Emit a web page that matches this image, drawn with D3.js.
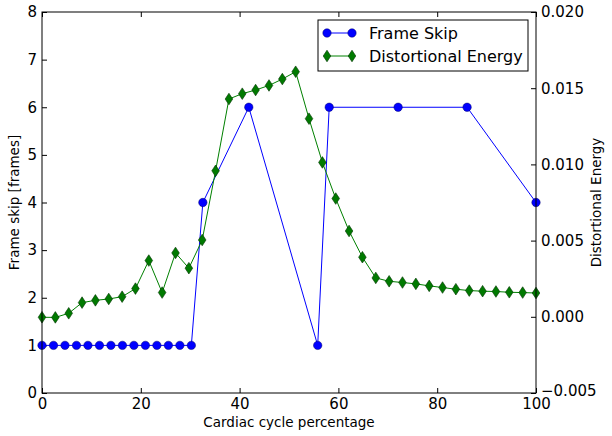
<!DOCTYPE html>
<html><head><meta charset="utf-8">
<script src="https://cdn.jsdelivr.net/npm/d3@7"></script>
<style>
html,body{margin:0;padding:0;background:#fff;}
svg{display:block;font-family:"DejaVu Sans",sans-serif;}
</style></head>
<body><svg id="chart" width="612" height="436"></svg>
<script>
const skipX = [0, 2.33, 4.65, 6.98, 9.30, 11.63, 13.95, 16.28, 18.60, 20.93, 23.26, 25.58, 27.91, 30.23, 32.56, 41.86, 55.81, 58.14, 72.09, 86.05, 100];
const skipY = [1,1,1,1,1,1,1,1,1,1,1,1,1,1,4,6,1,6,6,6,4];
const energyX = [0, 2.70, 5.41, 8.11, 10.81, 13.51, 16.22, 18.92, 21.62, 24.32, 27.03, 29.73, 32.43, 35.14, 37.84, 40.54, 43.24, 45.95, 48.65, 51.35, 54.05, 56.76, 59.46, 62.16, 64.86, 67.57, 70.27, 72.97, 75.68, 78.38, 81.08, 83.78, 86.49, 89.19, 91.89, 94.59, 97.30, 100];
const energyY = [-0.00003, -0.00004, 0.00023, 0.00093, 0.00108, 0.00117, 0.00132, 0.00185, 0.00369, 0.00159, 0.00419, 0.00319, 0.00504, 0.00958, 0.01429, 0.01464, 0.01488, 0.01518, 0.0156, 0.01608, 0.01300, 0.01013, 0.00776, 0.00563, 0.00391, 0.00255, 0.00233, 0.00225, 0.00216, 0.00203, 0.00192, 0.00181, 0.00172, 0.00168, 0.00166, 0.00161, 0.00159, 0.00156];
const xTicks = [0, 20, 40, 60, 80, 100];
const yLeftTicks = [0,1,2,3,4,5,6,7,8];
const yRightTicks = [-0.005, 0.000, 0.005, 0.010, 0.015, 0.020];
const seriesNames = ["Frame Skip", "Distortional Energy"];

const svg = d3.select("#chart");
const L = 42, R = 536, T = 12, B = 393;
const x = d3.scaleLinear().domain([0,100]).range([L,R]);
const yL = d3.scaleLinear().domain([0,8]).range([B,T]);
const yR = d3.scaleLinear().domain([-0.005,0.020]).range([B,T]);
const fs = 15;

const axB = d3.axisBottom(x).tickValues(xTicks).tickSizeInner(-5).tickSizeOuter(0).tickPadding(5.5).tickFormat(d3.format("d"));
const axT = d3.axisTop(x).tickValues(xTicks).tickSizeInner(-5).tickSizeOuter(0).tickFormat("");
const axL = d3.axisLeft(yL).tickValues(yLeftTicks).tickSizeInner(-5).tickSizeOuter(0).tickPadding(5).tickFormat(d3.format("d"));
const axRt = d3.axisRight(yR).tickValues(yRightTicks).tickSizeInner(-5).tickSizeOuter(0).tickPadding(5).tickFormat(d3.format(".3f"));

function style(g){
  g.select(".domain").remove();
  g.selectAll("line").attr("stroke","#000").attr("stroke-width",1);
  g.selectAll("text").attr("font-size",fs).attr("fill","#000").attr("font-family","DejaVu Sans, sans-serif");
}
svg.append("g").attr("transform",`translate(0,${B})`).call(axB).call(style);
svg.append("g").attr("transform",`translate(0,${T})`).call(axT).call(style);
svg.append("g").attr("transform",`translate(${L},0)`).call(axL).call(style);
const rg = svg.append("g").attr("transform",`translate(${R},0)`).call(axRt).call(style);
rg.selectAll("text").text(d => d3.format(".3f")(d).replace("-","\u2212"));
rg.selectAll(".tick").filter(d => d === -0.005).select("text").attr("dy","0.15em");

const lineS = d3.line().x(d=>x(d[0])).y(d=>yL(d[1]));
const lineE = d3.line().x(d=>x(d[0])).y(d=>yR(d[1]));
const sData = skipX.map((v,i)=>[v,skipY[i]]);
const eData = energyX.map((v,i)=>[v,energyY[i]]);

const plot = svg.append("g");
plot.append("path").datum(sData).attr("d",lineS).attr("fill","none").attr("stroke","#0000ff").attr("stroke-width",1);
plot.selectAll(".sdot").data(sData).enter().append("circle")
  .attr("cx",d=>x(d[0])).attr("cy",d=>yL(d[1])).attr("r",4.2)
  .attr("fill","#0000ff").attr("stroke","#00006a").attr("stroke-width",0.5);

const diamond = (cx,cy) => `M${cx},${cy-5.8}L${cx+3.8},${cy}L${cx},${cy+5.8}L${cx-3.8},${cy}Z`;
plot.append("path").datum(eData).attr("d",lineE).attr("fill","none").attr("stroke","#008000").attr("stroke-width",1);
plot.selectAll(".edot").data(eData).enter().append("path")
  .attr("d",d=>diamond(x(d[0]),yR(d[1])))
  .attr("fill","#007a00").attr("stroke","#003300").attr("stroke-width",0.6);

svg.append("rect").attr("x",L).attr("y",T).attr("width",R-L).attr("height",B-T)
  .attr("fill","none").attr("stroke","#000").attr("stroke-width",1);

svg.append("text").attr("x",(L+R)/2).attr("y",427).attr("text-anchor","middle")
  .attr("font-size",13.5).text("Cardiac cycle percentage");
svg.append("text").attr("transform",`translate(19,${(T+B)/2}) rotate(-90)`).attr("text-anchor","middle")
  .attr("font-size",13.5).text("Frame skip [frames]");
svg.append("text").attr("transform",`translate(601,${(T+B)/2}) rotate(-90)`).attr("text-anchor","middle")
  .attr("font-size",13.5).text("Distortional Energy");

const lg = svg.append("g");
lg.append("rect").attr("x",318).attr("y",20).attr("width",210).attr("height",51)
  .attr("fill","#fff").attr("stroke","#000").attr("stroke-width",1);
const ly = [33, 56];
lg.append("line").attr("x1",327).attr("x2",352).attr("y1",ly[0]).attr("y2",ly[0]).attr("stroke","#0000ff");
[327,352].forEach(cx=>lg.append("circle").attr("cx",cx).attr("cy",ly[0]).attr("r",4.2).attr("fill","#0000ff").attr("stroke","#00006a").attr("stroke-width",0.5));
lg.append("line").attr("x1",327).attr("x2",352).attr("y1",ly[1]).attr("y2",ly[1]).attr("stroke","#008000");
[327,352].forEach(cx=>lg.append("path").attr("d",diamond(cx,ly[1])).attr("fill","#007a00").attr("stroke","#003300").attr("stroke-width",0.6));
seriesNames.forEach((n,i)=>lg.append("text").attr("x",369).attr("y",ly[i]+5.5).attr("font-size",16).text(n));
</script></body></html>
